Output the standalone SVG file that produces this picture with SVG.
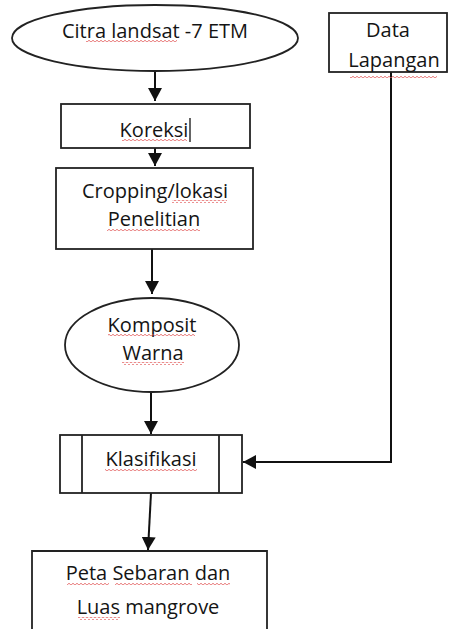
<svg xmlns="http://www.w3.org/2000/svg" width="452" height="629" viewBox="0 0 452 629">
<style>
.n{fill:#fff;stroke:#222;stroke-width:1.8}
.t{font-family:"Open Sans","Liberation Sans",sans-serif;font-size:20px;fill:#141414;text-anchor:middle}
.c{fill:none;stroke:#111;stroke-width:2}
.w{fill:url(#wave)}
</style>
<defs>
<marker id="ah" markerUnits="userSpaceOnUse" markerWidth="14" markerHeight="14" refX="13" refY="7" orient="auto">
<path d="M0,0 L13,7 L0,14 z" fill="#111"/>
</marker>
<pattern id="wave" patternUnits="userSpaceOnUse" width="4" height="3">
<path d="M0 2.2 Q1 0.3 2 2.2 T4 2.2" fill="none" stroke="#e05050" stroke-width="0.8"/>
</pattern>
</defs>
<rect width="452" height="629" fill="#fff"/>
<g id="connectors">
<line class="c" x1="155" y1="71" x2="155" y2="101" marker-end="url(#ah)"/>
<line class="c" x1="155" y1="148" x2="155" y2="166" marker-end="url(#ah)"/>
<line class="c" x1="152" y1="249" x2="152" y2="294" marker-end="url(#ah)"/>
<line class="c" x1="151" y1="392" x2="151" y2="434" marker-end="url(#ah)"/>
<line class="c" x1="151" y1="493" x2="148" y2="550" marker-end="url(#ah)"/>
<polyline class="c" points="391,72 391,462 243,462" marker-end="url(#ah)"/>
</g>
<g id="citra">
<ellipse class="n" cx="155" cy="38" rx="143" ry="33"/>
<text class="t" x="155" y="38">Citra landsat -7 ETM</text>
<rect class="w" x="86" y="40" width="91" height="3"/>
</g>
<g id="data-lapangan">
<rect class="n" x="329" y="13" width="118" height="59"/>
<text class="t" x="388" y="37">Data</text>
<text class="t" x="394" y="67">Lapangan</text>
<rect class="w" x="350" y="75" width="87" height="3"/>
</g>
<g id="koreksi">
<rect class="n" x="61" y="104" width="189" height="44"/>
<text class="t" x="154" y="137">Koreksi</text>
<line x1="190" y1="118" x2="190" y2="142" stroke="#111" stroke-width="1.3"/>
<rect class="w" x="122" y="139" width="65" height="3"/>
</g>
<g id="cropping">
<rect class="n" x="56" y="168" width="197" height="81"/>
<text class="t" x="155" y="198">Cropping/lokasi</text>
<text class="t" x="154" y="226">Penelitian</text>
<rect class="w" x="172" y="200" width="55" height="3"/>
<rect class="w" x="107" y="228" width="93" height="3"/>
</g>
<g id="komposit">
<ellipse class="n" cx="152" cy="345" rx="87" ry="47"/>
<text class="t" x="152" y="332">Komposit</text>
<text class="t" x="153" y="360">Warna</text>
<rect class="w" x="108" y="334" width="87" height="3"/>
<rect class="w" x="122" y="362" width="62" height="3"/>
</g>
<g id="klasifikasi">
<rect class="n" x="60" y="435" width="182" height="58"/>
<line class="n" x1="82" y1="435" x2="82" y2="493"/>
<line class="n" x1="219" y1="435" x2="219" y2="493"/>
<text class="t" x="151" y="466">Klasifikasi</text>
<rect class="w" x="105" y="468" width="92" height="3"/>
</g>
<g id="peta">
<path class="n" d="M32,640 L32,551 L267,551 L267,640"/>
<text class="t" x="148" y="580">Peta Sebaran dan</text>
<text class="t" x="148" y="614">Luas mangrove</text>
<rect class="w" x="67" y="583" width="42" height="3"/>
<rect class="w" x="115" y="583" width="77" height="3"/>
<rect class="w" x="197" y="583" width="33" height="3"/>
<rect class="w" x="78" y="617" width="42" height="3"/>
</g>
</svg>
